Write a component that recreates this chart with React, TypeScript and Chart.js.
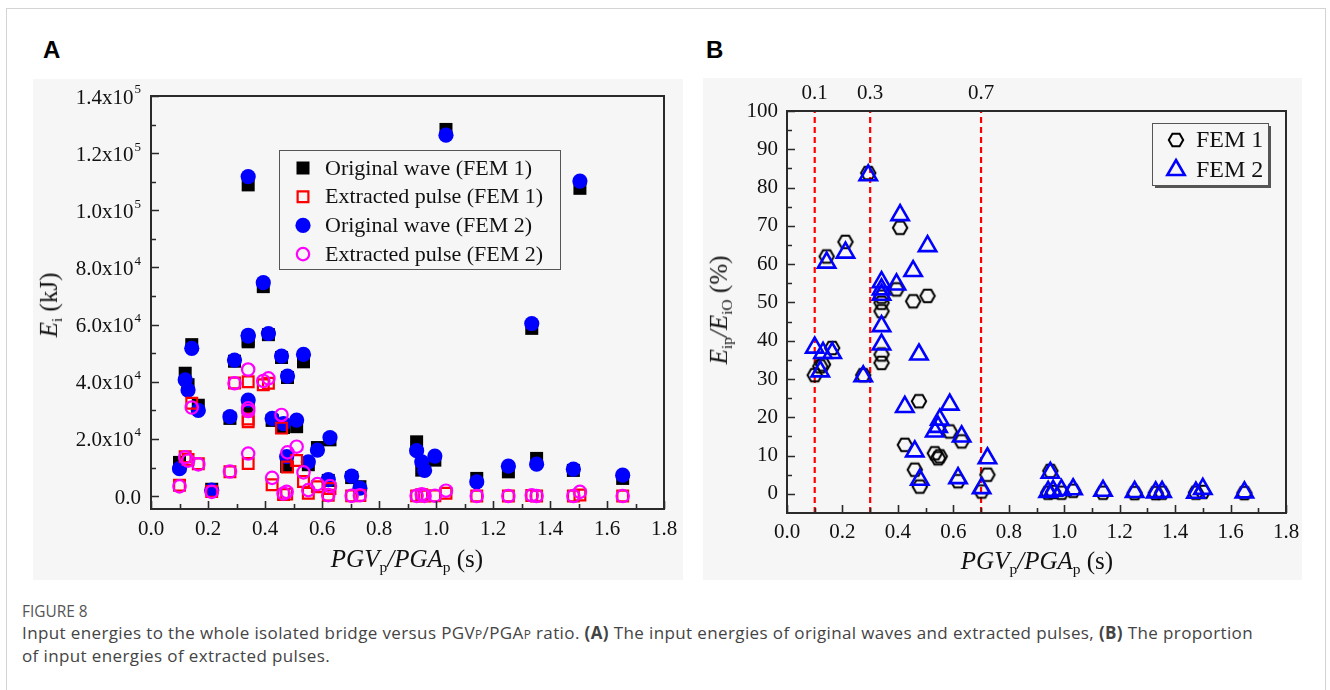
import React, { useEffect, useRef } from "react";
import { Chart, registerables } from "chart.js";

Chart.register(...registerables);

const SERIF = "'Liberation Serif', 'Times New Roman', serif";

// ---------- shared period axis ----------
const periodTicks = [0, 0.2, 0.4, 0.6, 0.8, 1.0, 1.2, 1.4, 1.6, 1.8];
const periodMinorTicks = [0.1, 0.3, 0.5, 0.7, 0.9, 1.1, 1.3, 1.5, 1.7];

// ---------- panel A : input energies ----------
const energyTicks = [0, 20000, 40000, 60000, 80000, 100000, 120000, 140000];
const energyTickMantissas = ["0.0", "2.0x10", "4.0x10", "6.0x10", "8.0x10", "1.0x10", "1.2x10", "1.4x10"];
const energyTickExponents = ["", "4", "4", "4", "4", "5", "5", "5"];
const energyMinorTicks = [10000, 30000, 50000, 70000, 90000, 110000, 130000];

const pgvPgaA = [0.10, 0.12, 0.13, 0.143, 0.166, 0.213, 0.277, 0.293, 0.341, 0.341, 0.341, 0.341, 0.394, 0.412, 0.425, 0.458, 0.465, 0.476, 0.479, 0.511, 0.535, 0.552, 0.584, 0.622, 0.628, 0.704, 0.733, 0.932, 0.95, 0.96, 0.996, 1.035, 1.143, 1.254, 1.336, 1.353, 1.482, 1.505, 1.655];
const originalFem1 = [11800, 43000, 39000, 53000, 31800, 2400, 27200, 47200, 108900, 54000, 31000, 54500, 73300, 56500, 26500, 48500, 24000, 10400, 41500, 24300, 47000, 11000, 17000, 5500, 19700, 6500, 3300, 19000, 9100, 11000, 12600, 128300, 6200, 8500, 58700, 13200, 9000, 107700, 6200];
const originalFem2 = [9600, 40700, 37100, 51700, 30000, 2100, 27800, 47600, 111800, 56300, 33600, 56000, 74700, 56900, 27200, 49000, 25400, 13800, 42000, 26600, 49600, 12000, 16100, 5800, 20500, 7000, 2800, 15900, 12000, 9000, 14000, 126300, 5000, 10500, 60400, 11200, 9450, 110250, 7350];
const pulseFem1 = [3800, 13800, 12800, 32500, 11300, 1600, 8500, 39600, 40000, 27000, 11400, 26000, 39000, 39500, 4000, 23800, 600, 700, 10200, 12500, 5100, 1000, 3300, 300, 2700, 100, 200, 100, 500, 50, 100, 1000, 50, 40, 200, 40, 30, 400, 30];
const pulseFem2 = [3400, 13600, 12400, 31000, 11100, 1500, 8600, 39500, 44300, 30700, 14900, 29800, 40300, 41200, 6400, 28400, 900, 1500, 15300, 17300, 8300, 2100, 4200, 350, 3500, 100, 300, 100, 650, 80, 150, 1900, 40, 50, 300, 60, 40, 1500, 30];
const legendLabelsA = ["Original wave (FEM 1)", "Extracted pulse (FEM 1)", "Original wave (FEM 2)", "Extracted pulse (FEM 2)"];

// ---------- panel B : proportion ----------
const ratioTicks = [0, 10, 20, 30, 40, 50, 60, 70, 80, 90, 100];
const ratioMinorTicks = [5, 15, 25, 35, 45, 55, 65, 75, 85, 95];
const thresholds = [0.1, 0.3, 0.7];
const thresholdLabels = ["0.1", "0.3", "0.7"];

const pgvPgaB = [0.100, 0.120, 0.130, 0.143, 0.163, 0.211, 0.275, 0.293, 0.341, 0.341, 0.341, 0.341, 0.341, 0.395, 0.408, 0.425, 0.455, 0.461, 0.476, 0.479, 0.507, 0.533, 0.545, 0.551, 0.587, 0.617, 0.630, 0.702, 0.723, 0.942, 0.950, 0.960, 0.990, 1.032, 1.140, 1.254, 1.330, 1.353, 1.475, 1.500, 1.650];
const ratioFem1 = [31.0, 33.3, 33.8, 62.0, 38.1, 65.8, 31.0, 83.8, 36.4, 49.9, 34.2, 47.7, 51.5, 53.4, 69.5, 12.8, 50.3, 6.3, 24.2, 1.9, 51.7, 10.6, 9.3, 9.8, 16.3, 3.3, 13.7, 0.6, 5.0, 0.3, 6.0, 0.5, 0.3, 0.8, 0.3, 0.2, 0.2, 0.3, 0.3, 0.5, 0.2];
const ratioFem2 = [38.2, 32.0, 36.8, 60.4, 36.8, 63.0, 30.7, 83.2, 39.0, 55.3, 43.8, 53.4, 52.0, 54.7, 72.8, 22.7, 58.2, 11.1, 36.4, 3.7, 64.7, 16.3, 17.5, 19.4, 23.3, 4.1, 15.0, 1.5, 9.3, 0.5, 5.5, 0.8, 1.0, 1.2, 0.8, 0.5, 0.4, 0.5, 0.3, 1.3, 0.4];
const legendLabelsB = ["FEM 1", "FEM 2"];

const toPoints = (xs: number[], ys: number[]) => xs.map((x, i) => ({ x, y: ys[i] }));

function makeHexagon(): HTMLCanvasElement {
  const c = document.createElement("canvas");
  c.width = 20;
  c.height = 20;
  const g = c.getContext("2d")!;
  g.strokeStyle = "#000";
  g.lineWidth = 2;
  g.beginPath();
  for (let k = 0; k < 6; k++) {
    const a = (k * Math.PI) / 3;
    const px = 10 + 7.2 * Math.cos(a);
    const py = 10 + 7.2 * Math.sin(a);
    if (k === 0) g.moveTo(px, py);
    else g.lineTo(px, py);
  }
  g.closePath();
  g.stroke();
  return c;
}

function drawMarker(ctx: CanvasRenderingContext2D, ds: any, x: number, y: number) {
  const style = ds.pointStyle;
  const r = ds.pointRadius;
  ctx.save();
  if (typeof style !== "string") {
    ctx.drawImage(style, x - style.width / 2, y - style.height / 2);
    ctx.restore();
    return;
  }
  ctx.beginPath();
  if (style === "rect") {
    const s = r * Math.SQRT1_2;
    ctx.rect(x - s, y - s, 2 * s, 2 * s);
  } else if (style === "circle") {
    ctx.arc(x, y, r, 0, Math.PI * 2);
  } else if (style === "triangle") {
    for (let k = 0; k < 3; k++) {
      const a = (k * 2 * Math.PI) / 3;
      const px = x + Math.sin(a) * r;
      const py = y - Math.cos(a) * r;
      if (k === 0) ctx.moveTo(px, py);
      else ctx.lineTo(px, py);
    }
    ctx.closePath();
  }
  const fill = ds.backgroundColor;
  if (fill && fill !== "transparent" && fill !== "rgba(0,0,0,0)") {
    ctx.fillStyle = fill;
    ctx.fill();
  }
  if (ds.borderWidth) {
    ctx.lineWidth = ds.borderWidth;
    ctx.strokeStyle = ds.borderColor;
    ctx.stroke();
  }
  ctx.restore();
}

function innerTicksPlugin(xMajor: number[], xMinor: number[], yMajor: number[], yMinor: number[]) {
  return {
    id: "innerTicks",
    afterDraw(chart: any) {
      const { ctx, chartArea: a, scales } = chart;
      const xs = scales.x;
      const ys = scales.y;
      ctx.save();
      ctx.strokeStyle = "#2a2a2a";
      ctx.lineWidth = 1.6;
      ctx.beginPath();
      xMajor.forEach((v) => {
        const p = Math.round(xs.getPixelForValue(v)) + 0.5;
        ctx.moveTo(p, a.bottom);
        ctx.lineTo(p, a.bottom - 8);
      });
      xMinor.forEach((v) => {
        const p = Math.round(xs.getPixelForValue(v)) + 0.5;
        ctx.moveTo(p, a.bottom);
        ctx.lineTo(p, a.bottom - 5);
      });
      yMajor.forEach((v) => {
        const p = Math.round(ys.getPixelForValue(v)) + 0.5;
        ctx.moveTo(a.left, p);
        ctx.lineTo(a.left + 8, p);
      });
      yMinor.forEach((v) => {
        const p = Math.round(ys.getPixelForValue(v)) + 0.5;
        ctx.moveTo(a.left, p);
        ctx.lineTo(a.left + 5, p);
      });
      ctx.stroke();
      ctx.lineWidth = 2;
      ctx.strokeStyle = "#2a2a2a";
      ctx.strokeRect(a.left, a.top, a.right - a.left, a.bottom - a.top);
      ctx.restore();
    },
  };
}

const energyLabelPlugin = {
  id: "energyLabels",
  afterDraw(chart: any) {
    const { ctx, chartArea: a, scales } = chart;
    const ys = scales.y;
    ctx.save();
    ctx.fillStyle = "#111";
    ctx.textAlign = "right";
    ctx.textBaseline = "middle";
    const right = a.left - 10;
    energyTicks.forEach((v, i) => {
      const p = ys.getPixelForValue(v);
      const exp = energyTickExponents[i];
      ctx.font = `13px ${SERIF}`;
      const ew = exp ? ctx.measureText(exp).width + 1 : 0;
      if (exp) ctx.fillText(exp, right, p - 6);
      ctx.font = `21px ${SERIF}`;
      ctx.fillText(energyTickMantissas[i], right - ew, p + 2);
    });
    ctx.restore();
  },
};

const legendAPlugin = {
  id: "legendA",
  afterDraw(chart: any) {
    const { ctx, chartArea: a } = chart;
    const bx = a.left + 128;
    const by = a.top + 54;
    const bw = 281;
    const bh = 119;
    ctx.save();
    ctx.strokeStyle = "#555";
    ctx.lineWidth = 1;
    ctx.strokeRect(bx + 0.5, by + 0.5, bw, bh);
    ctx.font = `22px ${SERIF}`;
    ctx.fillStyle = "#111";
    ctx.textAlign = "left";
    ctx.textBaseline = "middle";
    legendLabelsA.forEach((lab, i) => {
      const ds = chart.data.datasets.find((d: any) => d.label === lab);
      const y = by + 18 + i * 28.7;
      drawMarker(ctx, ds, bx + 24, y);
      ctx.fillText(lab, bx + 46, y + 1);
    });
    ctx.restore();
  },
};

const legendBPlugin = {
  id: "legendB",
  afterDraw(chart: any) {
    const { ctx, chartArea: a } = chart;
    const bx = a.left + 365;
    const by = a.top + 12;
    const bw = 116;
    const bh = 62;
    ctx.save();
    ctx.strokeStyle = "#555";
    ctx.lineWidth = 1;
    ctx.strokeRect(bx + 0.5, by + 0.5, bw, bh);
    ctx.lineWidth = 2;
    ctx.beginPath();
    ctx.moveTo(bx + bw + 2, by + 3);
    ctx.lineTo(bx + bw + 2, by + bh + 2);
    ctx.lineTo(bx + 3, by + bh + 2);
    ctx.stroke();
    ctx.font = `24px ${SERIF}`;
    ctx.fillStyle = "#111";
    ctx.textAlign = "left";
    ctx.textBaseline = "middle";
    legendLabelsB.forEach((lab, i) => {
      const ds = chart.data.datasets.find((d: any) => d.label === lab);
      const y = by + 17 + i * 30;
      drawMarker(ctx, ds, bx + 24, y);
      ctx.fillText(lab, bx + 44, y + 1);
    });
    ctx.restore();
  },
};

const tickFont = { family: SERIF, size: 21 };

function PanelA() {
  const ref = useRef<HTMLCanvasElement>(null);
  useEffect(() => {
    const chart = new Chart(ref.current!, {
      type: "scatter",
      data: {
        datasets: [
          { label: legendLabelsA[0], data: toPoints(pgvPgaA, originalFem1), pointStyle: "rect", pointRadius: 9.2, backgroundColor: "#000000", borderColor: "#000000", borderWidth: 0, order: 4 } as any,
          { label: legendLabelsA[2], data: toPoints(pgvPgaA, originalFem2), pointStyle: "circle", pointRadius: 7.6, backgroundColor: "#0000ff", borderColor: "#0000ff", borderWidth: 0, order: 3 },
          { label: legendLabelsA[1], data: toPoints(pgvPgaA, pulseFem1), pointStyle: "rect", pointRadius: 7.6, backgroundColor: "transparent", borderColor: "#ff0000", borderWidth: 2.2, order: 2 },
          { label: legendLabelsA[3], data: toPoints(pgvPgaA, pulseFem2), pointStyle: "circle", pointRadius: 6.2, backgroundColor: "transparent", borderColor: "#ff00ff", borderWidth: 2.2, order: 1 },
        ],
      },
      options: {
        animation: false,
        responsive: false,
        events: [],
        layout: { padding: { left: 0, right: 59, top: 16, bottom: 0 } },
        plugins: { legend: { display: false }, tooltip: { enabled: false } },
        scales: {
          x: {
            type: "linear",
            min: 0,
            max: 1.8,
            afterBuildTicks: (s: any) => { s.ticks = periodTicks.map((v) => ({ value: v })); },
            afterFit: (s: any) => { s.height = 71; },
            grid: { display: false, drawTicks: false },
            border: { display: false },
            ticks: { padding: 8, font: tickFont, color: "#111", autoSkip: false, maxRotation: 0, callback: (v: any) => Number(v).toFixed(1) },
          },
          y: {
            type: "linear",
            min: -4500,
            max: 140000,
            afterBuildTicks: (s: any) => { s.ticks = energyTicks.map((v) => ({ value: v })); },
            afterFit: (s: any) => { s.width = 118; },
            grid: { display: false, drawTicks: false },
            border: { display: false },
            ticks: { display: false },
          },
        },
      } as any,
      plugins: [innerTicksPlugin(periodTicks, periodMinorTicks, energyTicks, energyMinorTicks), energyLabelPlugin, legendAPlugin],
    });
    return () => chart.destroy();
  }, []);
  return <canvas ref={ref} width={690} height={500} style={{ position: "absolute", left: 33, top: 80, width: 690, height: 500 }} />;
}

function PanelB() {
  const ref = useRef<HTMLCanvasElement>(null);
  useEffect(() => {
    const hex = makeHexagon();
    const lineSets = thresholds.map((t) => ({
      label: "limit " + t,
      data: [{ x: t, y: -5 }, { x: t, y: 100 }],
      showLine: true,
      pointRadius: 0,
      borderColor: "#ff0000",
      borderWidth: 2.2,
      borderDash: [6, 4],
      order: 10,
    }));
    const chart = new Chart(ref.current!, {
      type: "scatter",
      data: {
        datasets: [
          ...lineSets,
          { label: legendLabelsB[0], data: toPoints(pgvPgaB, ratioFem1), pointStyle: hex, pointRadius: 7, backgroundColor: "transparent", borderColor: "#000", borderWidth: 2, order: 2 },
          { label: legendLabelsB[1], data: toPoints(pgvPgaB, ratioFem2), pointStyle: "triangle", pointRadius: 10, backgroundColor: "transparent", borderColor: "#0000ff", borderWidth: 2.6, order: 1 },
        ],
      } as any,
      options: {
        animation: false,
        responsive: false,
        events: [],
        layout: { padding: { left: 0, right: 57, top: 0, bottom: 0 } },
        plugins: { legend: { display: false }, tooltip: { enabled: false } },
        scales: {
          x: {
            type: "linear",
            min: 0,
            max: 1.8,
            afterBuildTicks: (s: any) => { s.ticks = periodTicks.map((v) => ({ value: v })); },
            afterFit: (s: any) => { s.height = 67; },
            grid: { display: false, drawTicks: false },
            border: { display: false },
            ticks: { padding: 7, font: tickFont, color: "#111", autoSkip: false, maxRotation: 0, callback: (v: any) => Number(v).toFixed(1) },
          },
          x2: {
            type: "linear",
            position: "top",
            min: 0,
            max: 1.8,
            afterBuildTicks: (s: any) => { s.ticks = thresholds.map((v) => ({ value: v })); },
            afterFit: (s: any) => { s.height = 41; },
            grid: { display: false, drawTicks: false },
            border: { display: false },
            ticks: { padding: 5, font: tickFont, color: "#111", autoSkip: false, maxRotation: 0, callback: (_v: any, i: number) => thresholdLabels[i] },
          },
          y: {
            type: "linear",
            min: -5,
            max: 100,
            afterBuildTicks: (s: any) => { s.ticks = ratioTicks.map((v) => ({ value: v })); },
            afterFit: (s: any) => { s.width = 84; },
            grid: { display: false, drawTicks: false },
            border: { display: false },
            ticks: { padding: 9, font: tickFont, color: "#111", autoSkip: false, callback: (v: any) => String(v) },
          },
        },
      } as any,
      plugins: [innerTicksPlugin(periodTicks, periodMinorTicks, ratioTicks, ratioMinorTicks), legendBPlugin],
    });
    return () => chart.destroy();
  }, []);
  return <canvas ref={ref} width={640} height={510} style={{ position: "absolute", left: 703, top: 70, width: 640, height: 510 }} />;
}

const sub: React.CSSProperties = { fontSize: "0.62em", fontStyle: "normal", verticalAlign: "-0.3em" };

function PeriodTitle({ cx, cy }: { cx: number; cy: number }) {
  return (
    <div style={{ position: "absolute", left: cx, top: cy, transform: "translate(-50%,-50%)", whiteSpace: "nowrap", fontFamily: SERIF, fontSize: 25, color: "#111", lineHeight: 1 }}>
      <i>PGV</i><span style={sub}>p</span><i>/PGA</i><span style={sub}>p</span> (s)
    </div>
  );
}

export default function App() {
  return (
    <div style={{ position: "fixed", left: 0, top: 0, width: 1330, height: 690, background: "#ffffff", overflow: "hidden" }}>
      <div style={{ position: "absolute", left: 6, top: 8, width: 1318, height: 720, border: "1px solid #d4d4d4" }} />
      <div style={{ position: "absolute", left: 33, top: 79, width: 650, height: 501, background: "#f6f6f6" }} />
      <div style={{ position: "absolute", left: 703, top: 78, width: 599, height: 502, background: "#f6f6f6" }} />
      <div style={{ position: "absolute", left: 43, top: 38, fontFamily: "'Liberation Sans', Arial, sans-serif", fontWeight: 700, fontSize: 24, lineHeight: 1, color: "#000" }}>A</div>
      <div style={{ position: "absolute", left: 706, top: 38, fontFamily: "'Liberation Sans', Arial, sans-serif", fontWeight: 700, fontSize: 24, lineHeight: 1, color: "#000" }}>B</div>
      <PanelA />
      <PanelB />
      <PeriodTitle cx={407} cy={560} />
      <PeriodTitle cx={1037} cy={562} />
      <div style={{ position: "absolute", left: 50, top: 305, transform: "translate(-50%,-50%) rotate(-90deg)", whiteSpace: "nowrap", fontFamily: SERIF, fontSize: 25, color: "#111", lineHeight: 1 }}>
        <i>E</i><span style={sub}>i</span> (kJ)
      </div>
      <div style={{ position: "absolute", left: 720, top: 310, transform: "translate(-50%,-50%) rotate(-90deg)", whiteSpace: "nowrap", fontFamily: SERIF, fontSize: 25, color: "#111", lineHeight: 1 }}>
        <i>E</i><span style={sub}>ip</span><i>/E</i><span style={sub}>iO</span> (%)
      </div>
      <div style={{ position: "absolute", left: 22, top: 603, fontFamily: "'Open Sans', 'Noto Sans', sans-serif", fontSize: 15.4, color: "#555", lineHeight: 1.2 }}>FIGURE 8</div>
      <div style={{ position: "absolute", left: 22, top: 622, fontFamily: "'Open Sans', 'Noto Sans', sans-serif", fontSize: 17, letterSpacing: "0.38px", color: "#444", lineHeight: "22px", whiteSpace: "nowrap" }}>
        Input energies to the whole isolated bridge versus PGV<span style={{ fontSize: "0.7em" }}>P</span>/PGA<span style={{ fontSize: "0.7em" }}>P</span> ratio. <b>(A)</b> The input energies of original waves and extracted pulses, <b>(B)</b> The proportion
        <br />
        of input energies of extracted pulses.
      </div>
    </div>
  );
}
